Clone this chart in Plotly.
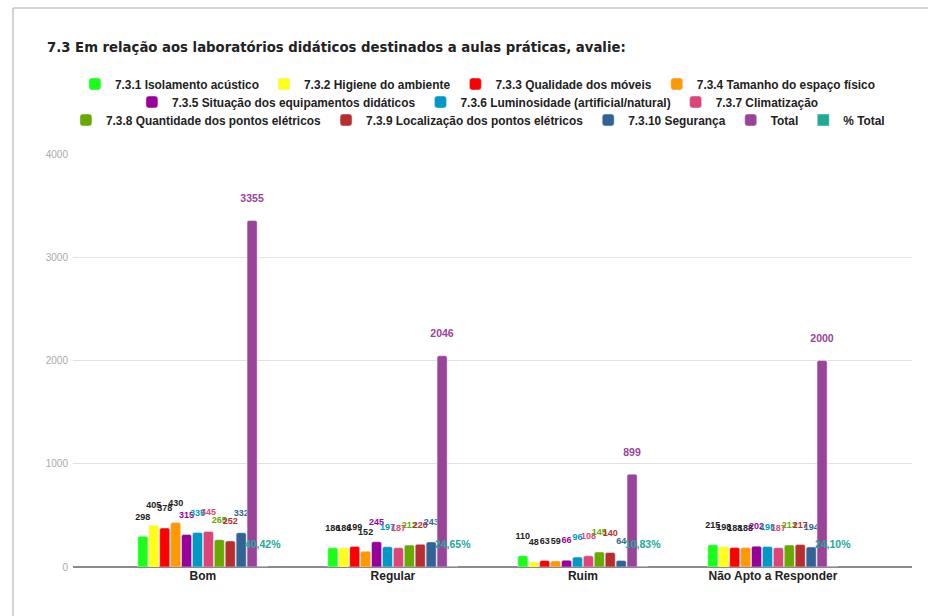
import plotly.graph_objects as go

# Categories on the x axis
categories = ["Bom", "Regular", "Ruim", "Não Apto a Responder"]

# Item series (counts per rating)
series_names = [
    "7.3.1 Isolamento acústico",
    "7.3.2 Higiene do ambiente",
    "7.3.3 Qualidade dos móveis",
    "7.3.4 Tamanho do espaço físico",
    "7.3.5 Situação dos equipamentos didáticos",
    "7.3.6 Luminosidade (artificial/natural)",
    "7.3.7 Climatização",
    "7.3.8 Quantidade dos pontos elétricos",
    "7.3.9 Localização dos pontos elétricos",
    "7.3.10 Segurança",
]
isolamento = [298, 186, 110, 215]
higiene = [405, 186, 48, 198]
moveis = [378, 199, 63, 188]
espaco = [430, 152, 59, 188]
equipamentos = [315, 245, 66, 202]
luminosidade = [335, 197, 96, 198]
climatizacao = [345, 187, 108, 187]
qtd_pontos = [265, 212, 145, 213]
loc_pontos = [252, 220, 140, 217]
seguranca = [332, 243, 64, 194]
total = [3355, 2046, 899, 2000]
pct_total = [0.4042, 0.2465, 0.1083, 0.2410]

series_values = [isolamento, higiene, moveis, espaco, equipamentos,
                 luminosidade, climatizacao, qtd_pontos, loc_pontos, seguranca]

series_colors = ["#1aff1a", "#ffff1a", "#ff0000", "#ff9900", "#990099",
                 "#0099c6", "#dd4477", "#66aa00", "#b82e2e", "#316395"]
label_colors = ["#222222", "#222222", "#222222", "#222222", "#990099",
                "#0099c6", "#dd4477", "#66aa00", "#b82e2e", "#316395"]
total_color = "#994499"
pct_color = "#22aa99"

# legend row for each series (three centred rows)
legend_rows = ["legend", "legend", "legend", "legend",
               "legend2", "legend2", "legend2",
               "legend3", "legend3", "legend3"]

FONT = "Liberation Sans, Arial, sans-serif"

fig = go.Figure()

for name, vals, col, lcol, lg in zip(series_names, series_values, series_colors,
                                     label_colors, legend_rows):
    fig.add_trace(go.Bar(
        name=name, x=categories, y=vals, marker_color=col,
        marker_cornerradius=2,
        text=[f"{v}<br> " for v in vals], textposition="outside",
        textfont=dict(family=FONT, size=9, color=lcol, weight="bold"),
        constraintext="none", cliponaxis=False, legend=lg,
    ))

fig.add_trace(go.Bar(
    name="Total", x=categories, y=total, marker_color=total_color,
    marker_cornerradius=2,
    text=[f"{v}<br> " for v in total], textposition="outside",
    textfont=dict(family=FONT, size=10.5, color=total_color, weight="bold"),
    constraintext="none", cliponaxis=False, legend="legend3",
))

fig.add_trace(go.Bar(
    name="% Total", x=categories, y=pct_total, marker_color=pct_color,
    text=[(f"{p * 100:.2f}%").replace(".", ",") + "<br> " for p in pct_total],
    textposition="outside",
    textfont=dict(family=FONT, size=10.5, color=pct_color, weight="bold"),
    constraintext="none", cliponaxis=False, legend="legend3",
))

legend_common = dict(
    orientation="h", xref="container", yref="container",
    x=0.515, xanchor="center", yanchor="middle",
    font=dict(family=FONT, size=11.9, color="#222222", weight="bold"),
    bgcolor="rgba(0,0,0,0)", itemwidth=30, itemclick=False,
    tracegroupgap=0,
)

fig.update_layout(
    width=928, height=616,
    margin=dict(l=73, r=16, t=154, b=49),
    paper_bgcolor="white", plot_bgcolor="white",
    barmode="group", bargap=0.31, bargroupgap=0.08,
    title=dict(
        text="7.3 Em relação aos laboratórios didáticos destinados a aulas práticas, avalie:",
        x=47 / 928, xanchor="left", xref="container",
        y=1 - 47 / 616, yanchor="middle", yref="container",
        font=dict(family="DejaVu Sans, sans-serif", size=13.25,
                  color="#222222", weight="bold"),
    ),
    legend=dict(legend_common, y=1 - 84 / 616),
    legend2=dict(legend_common, y=1 - 102 / 616),
    legend3=dict(legend_common, y=1 - 120 / 616),
    showlegend=True,
    xaxis=dict(
        range=[-0.684, 3.732], showgrid=False, showline=False, ticks="",
        tickfont=dict(family=FONT, size=12, color="#222222", weight="bold"),
    ),
    yaxis=dict(
        range=[0, 4000], tickvals=[0, 1000, 2000, 3000, 4000],
        tickformat="d", gridcolor="#e3e3e3", gridwidth=1,
        zeroline=True, zerolinecolor="#8a8a8a", zerolinewidth=1.5,
        showline=False, ticks="", ticklabelstandoff=4,
        tickfont=dict(family=FONT, size=10, color="#aaaaaa"),
    ),
)

# thin frame around the card (left and top edges)
frame = dict(color="#c4c4c4", width=1.5)
fig.add_shape(type="line", xref="paper", yref="paper",
              x0=(13 - 73) / 839, x1=(13 - 73) / 839,
              y0=(567 - 8) / 413, y1=(567 - 620) / 413, line=frame)
fig.add_shape(type="line", xref="paper", yref="paper",
              x0=(13 - 73) / 839, x1=(930 - 73) / 839,
              y0=(567 - 8) / 413, y1=(567 - 8) / 413, line=frame)

fig.write_html("out.html")
